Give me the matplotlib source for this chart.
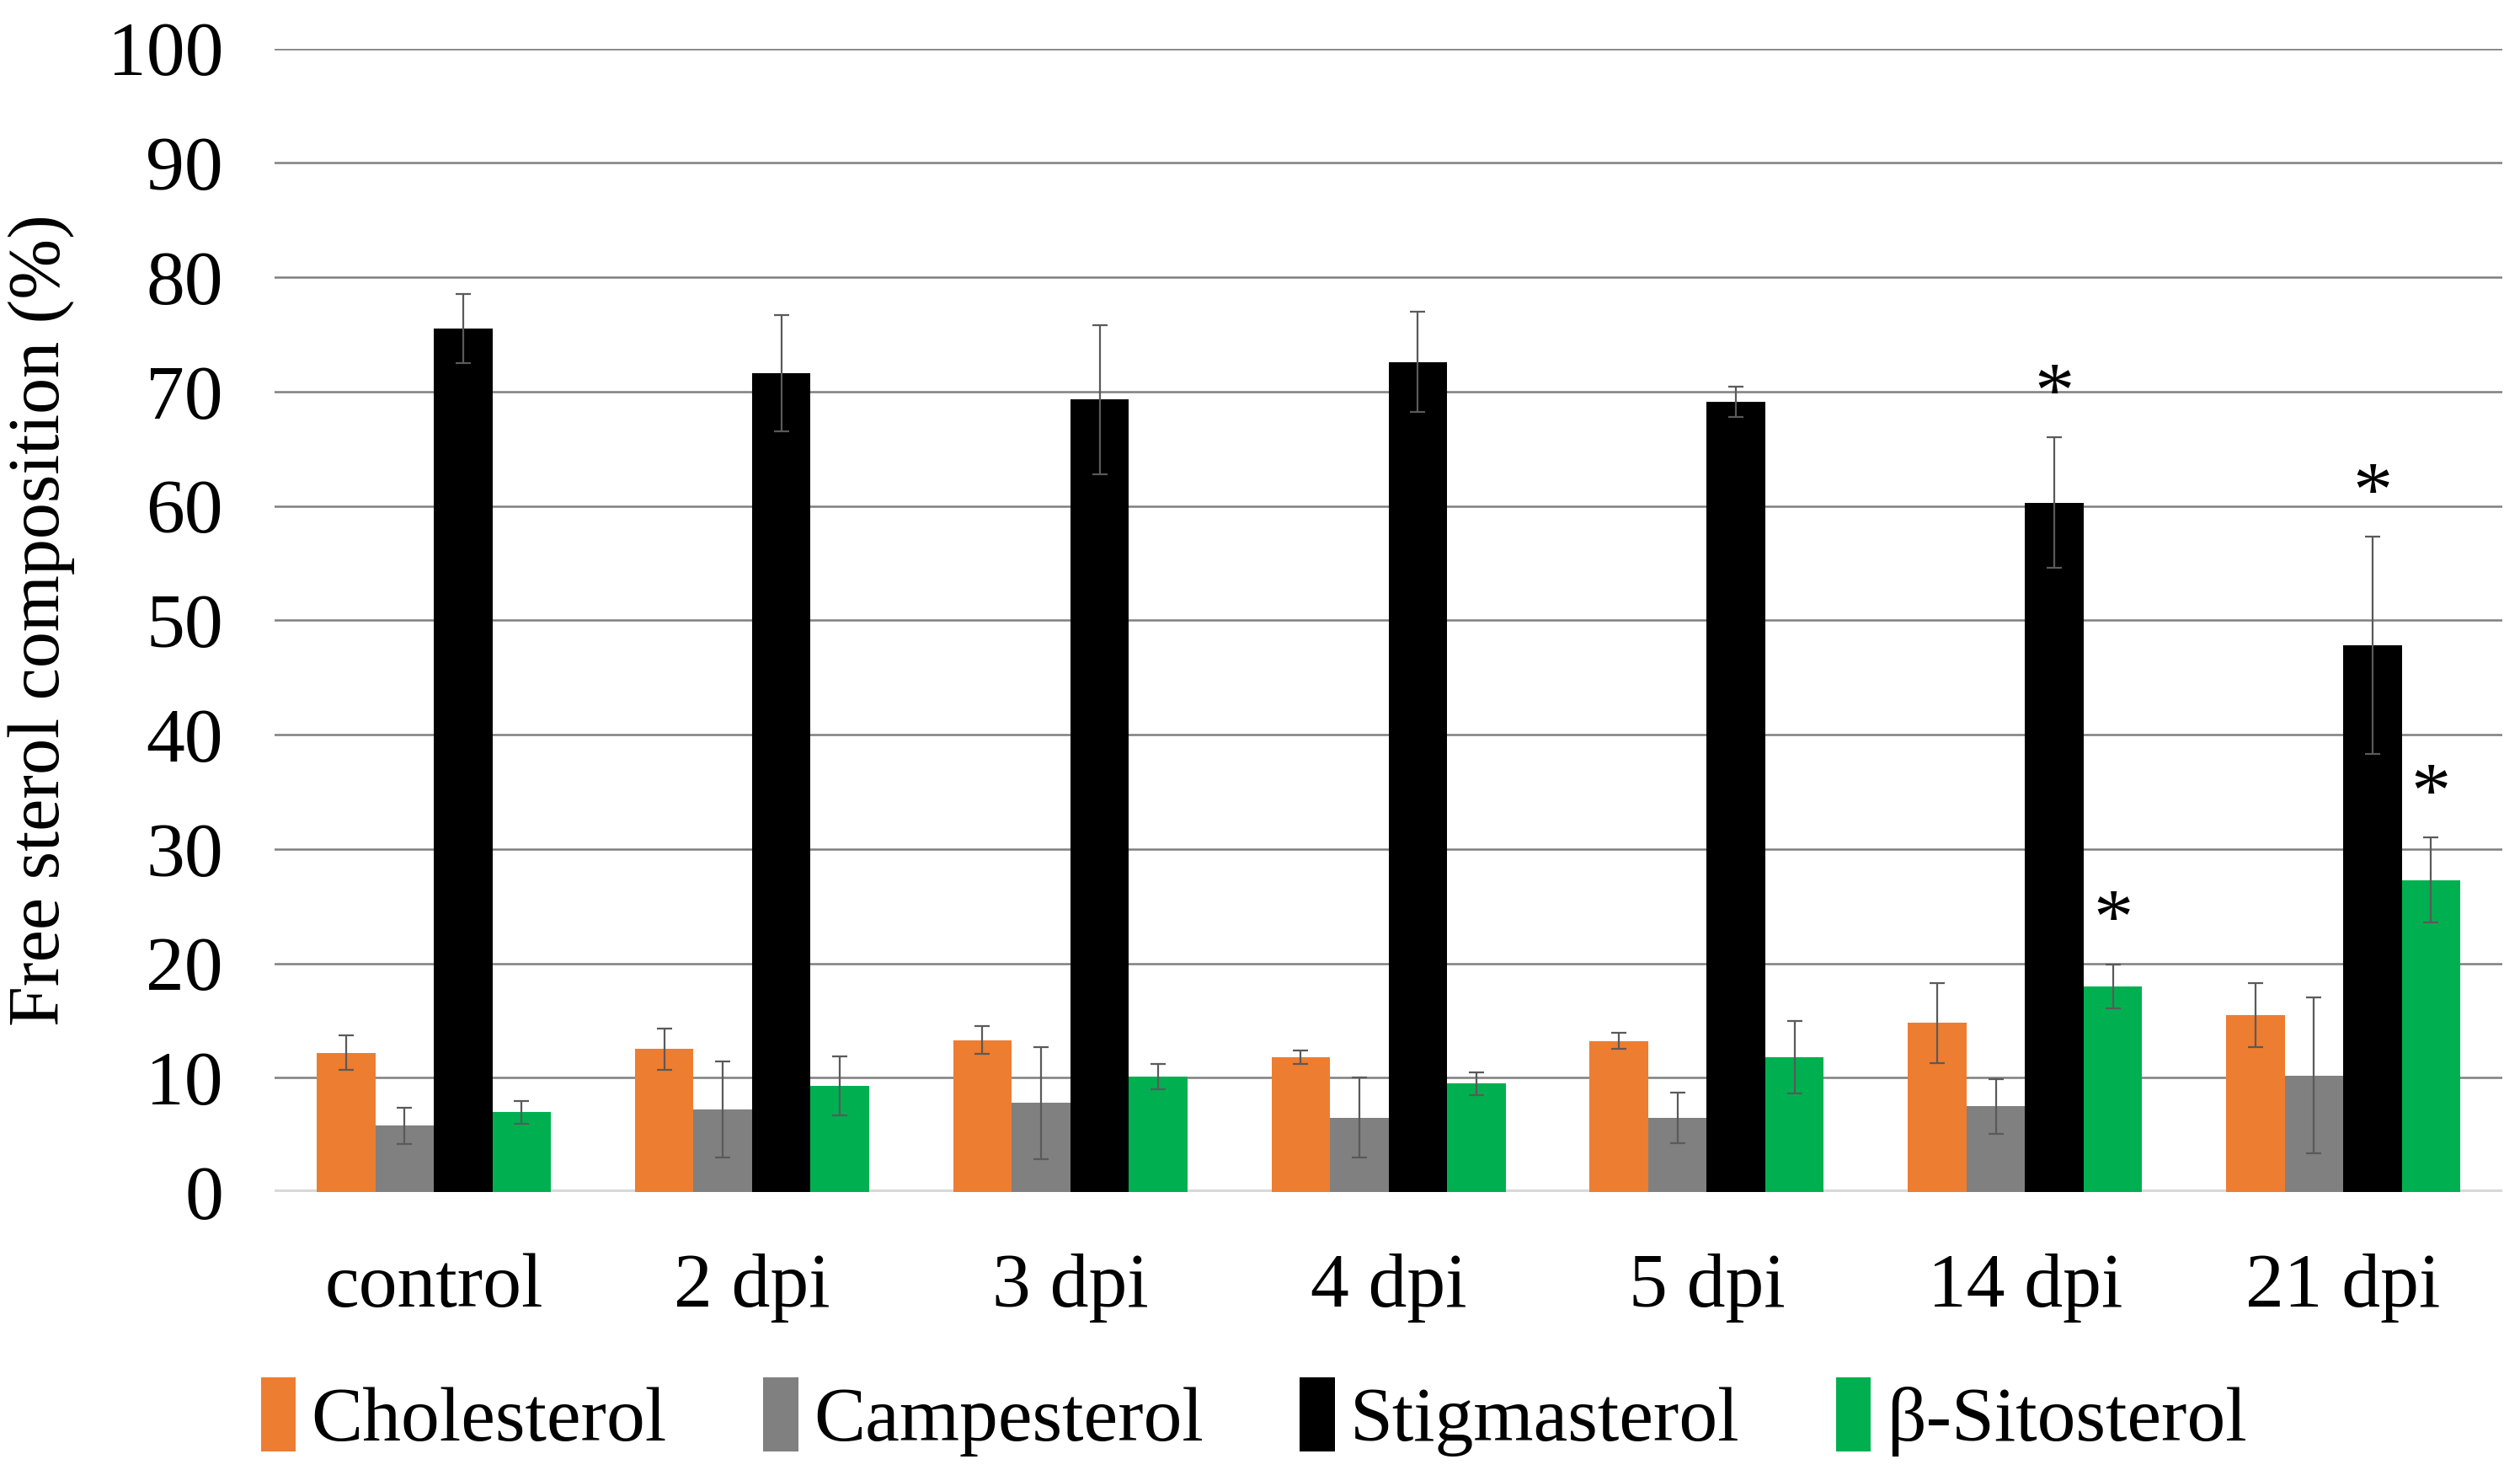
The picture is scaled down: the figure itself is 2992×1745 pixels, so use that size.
import numpy as np
import matplotlib
matplotlib.use("Agg")
import matplotlib.pyplot as plt

plt.rcParams['font.family'] = ['Liberation Serif', 'DejaVu Serif']

# data
groups = ["control", "2 dpi", "3 dpi", "4 dpi", "5 dpi", "14 dpi", "21 dpi"]
series = ["Cholesterol", "Campesterol", "Stigmasterol", "β-Sitosterol"]
colors = ["#ED7D31", "#808080", "#000000", "#00B050"]

cholesterol = [12.2, 12.5, 13.3, 11.8, 13.2, 14.8, 15.5]
cholesterol_err = [1.5, 1.8, 1.2, 0.6, 0.7, 3.5, 2.8]
campesterol = [5.8, 7.2, 7.8, 6.5, 6.5, 7.5, 10.2]
campesterol_err = [1.6, 4.2, 4.9, 3.5, 2.2, 2.4, 6.8]
stigmasterol = [75.5, 71.6, 69.3, 72.6, 69.1, 60.3, 47.8]
stigmasterol_err = [3.0, 5.1, 6.5, 4.4, 1.3, 5.7, 9.5]
sitosterol = [7.0, 9.3, 10.1, 9.5, 11.8, 18.0, 27.3]
sitosterol_err = [1.0, 2.6, 1.1, 1.0, 3.2, 1.9, 3.7]

# (group index, series index) of significant differences
significant = [(5, 2), (6, 2), (5, 3), (6, 3)]

values = [cholesterol, campesterol, stigmasterol, sitosterol]
errors = [cholesterol_err, campesterol_err, stigmasterol_err, sitosterol_err]

fig = plt.figure(figsize=(14.96, 8.725), dpi=200)
ax = fig.add_axes([0.109, 0.189, 0.884, 0.778])

x = np.arange(len(groups))
width = 0.184
bars = []
for i, (name, vals, errs, col) in enumerate(zip(series, values, errors, colors)):
    pos = x + (i - 1.5) * width
    ax.bar(pos, vals, width, color=col, label=name, zorder=3)
    ax.errorbar(pos, vals, yerr=errs, fmt='none', ecolor='#5a5a5a',
                elinewidth=0.8, capsize=3.2, capthick=0.8, zorder=4)
    bars.append(pos)

# significance stars above the error bars
for g, s in significant:
    top = values[s][g] + errors[s][g]
    ax.annotate("*", (bars[s][g], top), xytext=(0, 2), textcoords='offset points',
                ha='center', va='bottom', fontsize=34, zorder=5)

ax.set_xlim(-0.5, len(groups) - 0.5)
ax.set_ylim(0, 100)
ax.set_yticks(np.arange(0, 101, 10))
ax.yaxis.grid(True, color='#7f7f7f', linewidth=0.9, zorder=0)
ax.axhline(0, color='#d9d9d9', linewidth=2.2, zorder=2)
for sp in ax.spines.values():
    sp.set_visible(False)
ax.tick_params(axis='both', length=0, labelsize=33)
ax.tick_params(axis='y', pad=22)
ax.tick_params(axis='x', pad=26)
ax.set_xticks(x)
ax.set_xticklabels(groups)
ax.set_ylabel("Free sterol composition (%)", fontsize=31, labelpad=14)

ax.legend(loc='upper left', bbox_to_anchor=(-0.02, -0.135), ncol=4, frameon=False,
          fontsize=33, handlelength=0.45, handleheight=1.1, handletextpad=0.2,
          columnspacing=1.25, borderaxespad=0)

fig.savefig("out.png", dpi=200)
